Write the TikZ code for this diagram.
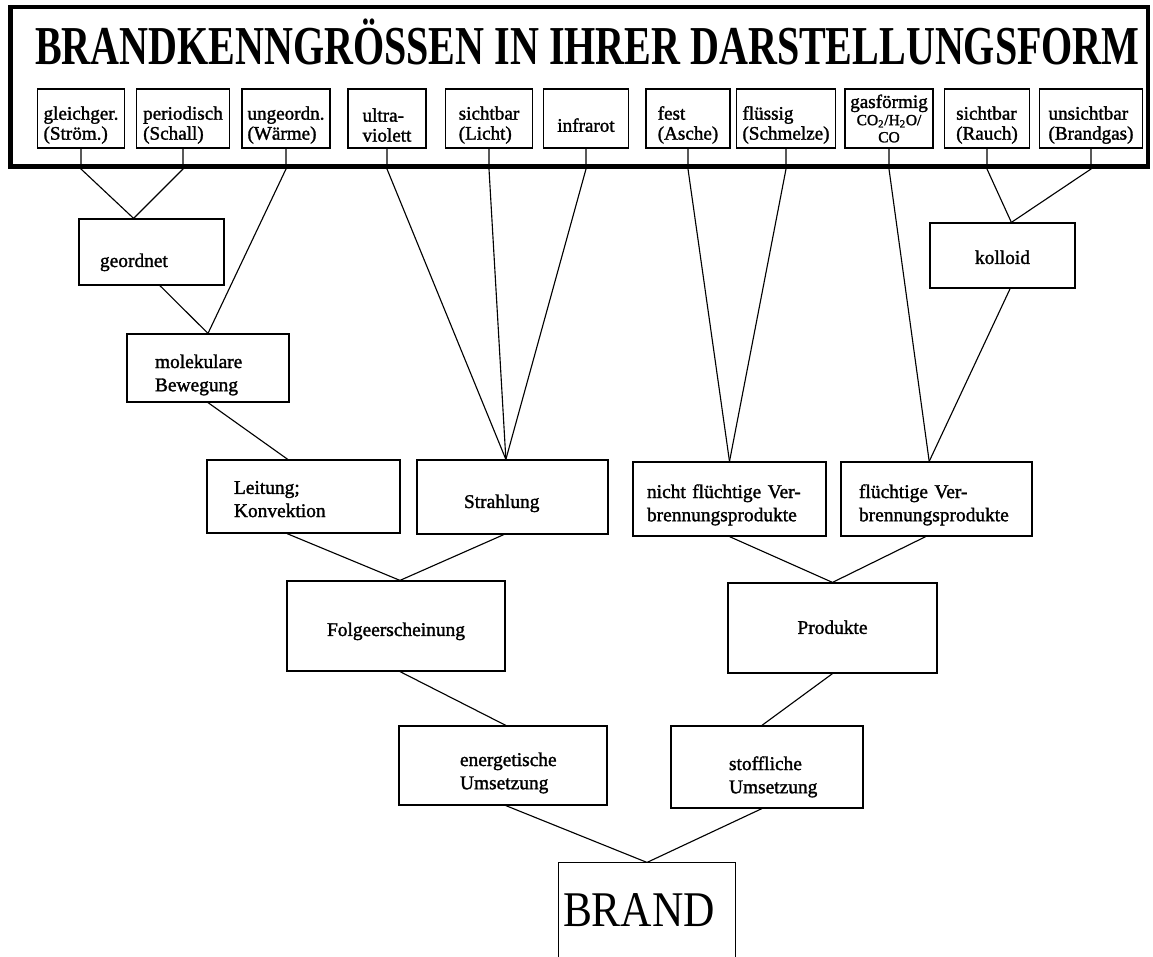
\documentclass[tikz,border=0pt]{standalone}
\usepackage{fontspec}
\setmainfont{Liberation Serif}
\newfontfamily\boxfont[FakeBold=1.5]{Liberation Serif}
\newfontfamily\titlefont[FakeStretch=0.73]{Liberation Serif}
\newfontfamily\brandfont[FakeStretch=0.87]{Liberation Serif}
\hyphenpenalty=10000
\newcommand{\pxu}{0.025cm}
\tikzset{
  every picture/.style={line width=0.8pt},
  box/.style={draw, line width=0.85pt, inner sep=0pt, font=\boxfont\fontsize{13.8}{16.5}\selectfont},
  tbox/.style={box, align=left, text height=33pt, font=\boxfont\fontsize{13.6}{14.2}\selectfont},
  wh/.style 2 args={minimum width=#1*\pxu, minimum height=#2*\pxu},
  lbox/.style={box, align=left, text width=#1*\pxu},
  cbox/.style={box, align=center},
  outer/.style={draw, line width=3.2pt, inner sep=0pt},
  title/.style={font=\titlefont\bfseries\fontsize{39}{39}\selectfont},
  link/.style={line width=0.8pt},
}

\begin{document}
\begin{tikzpicture}[x=0.025cm, y=-0.025cm]
  \useasboundingbox (0,0) rectangle (1153,957);
  % heading frame
  \node[outer, wh={1137.5}{159.5}] (frame) at (579,87) {};
  \node[title, anchor=base] (head) at (587.5,65) {BRANDKENNGRÖSSEN IN IHRER DARSTELLUNGSFORM};
  % measured quantities
  \node[tbox, wh={87}{59}] (t1) at (81,118.5) {gleichger.\\(Ström.)};
  \node[tbox, wh={93}{59}] (t2) at (183,118.5) {periodisch\\(Schall)};
  \node[tbox, wh={88}{59}] (t3) at (286,118.5) {ungeordn.\\(Wärme)};
  \node[tbox, wh={78}{59}] (t4) at (387,118.5) {ultra-\\violett};
  \node[tbox, wh={87}{59}] (t5) at (489,118.5) {sichtbar\\(Licht)};
  \node[tbox, wh={85}{59}, text height=19pt] (t6) at (586,118.5) {infrarot};
  \node[tbox, wh={84}{59}] (t7) at (688,118.5) {fest\\(Asche)};
  \node[tbox, wh={99}{59}] (t8) at (786,118.5) {flüssig\\(Schmelze)};
  \node[box, wh={88}{59}, align=center, font=\boxfont\fontsize{13.6}{14.2}\selectfont] (t9) at (889,118.5)
    {gasförmig\\[-2pt]{\fontsize{11}{12}\selectfont CO\textsubscript{2}/H\textsubscript{2}O/}\\[-2pt]{\fontsize{11}{12}\selectfont CO}};
  \node[tbox, wh={85}{59}] (t10) at (987,118.5) {sichtbar\\(Rauch)};
  \node[tbox, wh={103}{59}] (t11) at (1091,118.5) {unsichtbar\\(Brandgas)};
  % left branch
  \node[lbox=103, wh={145}{66}, text height=24.3pt] (geordnet) at (151.5,252) {geordnet};
  \node[lbox=106, wh={162}{68}, text height=19.5pt] (molek) at (208,368) {molekulare\\Bewegung};
  \node[lbox=139, wh={193}{73}, text height=12.9pt] (leitung) at (303.5,496.5) {Leitung;\\Konvektion};
  \node[lbox=97, wh={191}{74}, text height=18.6pt] (strahlung) at (512.5,497) {Strahlung};
  \node[cbox, wh={218}{90}, text height=17.2pt] (folge) at (396,626) {Folgeerscheinung};
  \node[lbox=86, wh={208}{79}, text height=20.2pt] (energ) at (503,765.5) {energetische\\Umsetzung};
  % right branch
  \node[cbox, wh={145}{65}, text height=12.1pt] (kolloid) at (1002.5,255.5) {kolloid};
  \node[lbox=165, wh={193}{74}, text height=18.1pt] (nicht) at (729.5,499) {nicht flüchtige Ver-\\brennungsprodukte};
  \node[lbox=155, wh={191}{74}, text height=18.1pt] (fluechtig) at (936.5,499) {flüchtige Ver-\\brennungsprodukte};
  \node[cbox, wh={209}{90}, text height=8.5pt] (produkte) at (832.5,628) {Produkte};
  \node[lbox=76, wh={192}{82}, text height=23.8pt] (stoff) at (767,767) {stoffliche\\Umsetzung};
  % root
  \node[wh={176}{94}, inner sep=0pt, align=left, text width=168*\pxu, font=\brandfont\fontsize{35.5}{36}\selectfont] (brand) at (647,910) {BRAND};
  \draw[line width=0.85pt] (brand.south west) -- (brand.north west) -- (brand.north east) -- (brand.south east);
  % links from the frame
  \draw[link] (t1.south) -- (t1.south |- frame.south) -- (geordnet.118);
  \draw[link] (t2.south) -- (t2.south |- frame.south) -- (geordnet.118);
  \draw[link] (t3.south) -- (t3.south |- frame.south) -- (molek.north);
  \draw[link] (t4.south) -- (t4.south |- frame.south) -- (strahlung.100);
  \draw[link] (t5.south) -- (t5.south |- frame.south) -- (strahlung.100);
  \draw[link] (t6.south) -- (t6.south |- frame.south) -- (strahlung.100);
  \draw[link] (t7.south) -- (t7.south |- frame.south) -- (nicht.north);
  \draw[link] (t8.south) -- (t8.south |- frame.south) -- (nicht.north);
  \draw[link] (t9.south) -- (t9.south |- frame.south) -- (fluechtig.101);
  \draw[link] (t10.south) -- (t10.south |- frame.south) -- (kolloid.75);
  \draw[link] (t11.south) -- (t11.south |- frame.south) -- (kolloid.75);
  % links in the tree
  \draw[link] (geordnet.-76) -- (molek.north);
  \draw[link] (molek.south) -- (leitung.113);
  \draw[link] (kolloid.-77) -- (fluechtig.101);
  \draw[link] (leitung.-114) -- (folge.85);
  \draw[link] (strahlung.-103) -- (folge.85);
  \draw[link] (nicht.south) -- (produkte.north);
  \draw[link] (fluechtig.-106) -- (produkte.north);
  \draw[link] (folge.-85) -- (energ.86);
  \draw[link] (produkte.south) -- (stoff.97);
  \draw[link] (energ.-86) -- (brand.north);
  \draw[link] (stoff.-97) -- (brand.north);
\end{tikzpicture}
\end{document}
